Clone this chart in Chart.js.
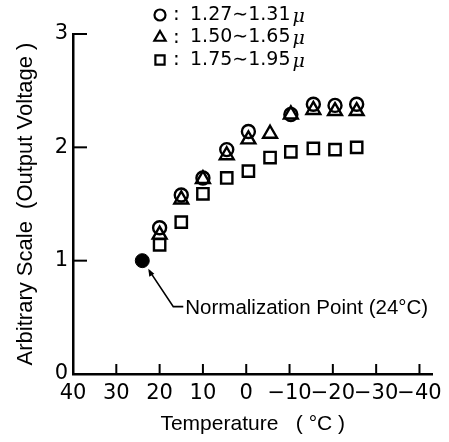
<!DOCTYPE html>
<html>
<head>
<meta charset="utf-8">
<script src="https://cdn.jsdelivr.net/npm/chart.js@4/dist/chart.umd.min.js"></script>
<style>
  html, body { margin: 0; padding: 0; background: #fff; }
  #wrap { width: 449px; height: 442px; }
</style>
</head>
<body>
<div id="wrap"><canvas id="myChart"></canvas></div>
<script>
// temperatures (deg C) of the measured points
var temps = [20, 15, 10, 4.5, -0.5, -5.5, -10.3, -15.5, -20.5, -25.5];

// output voltage, normalised at 24 deg C
var band1 = [1.29, 1.58, 1.73, 1.98, 2.14, null, 2.29, 2.38, 2.37, 2.38];
var band2 = [1.23, 1.54, 1.72, 1.93, 2.07, 2.12, 2.29, 2.33, 2.32, 2.32];
var band3 = [1.14, 1.34, 1.59, 1.73, 1.79, 1.91, 1.96, 1.99, 1.98, 2.00];

var bandLabels = ['1.27\u223C1.31', '1.50\u223C1.65', '1.75\u223C1.95'];

var normTemp = [24];
var normValue = [1];
var normLabel = 'Normalization Point (24\u00B0C)';

var xTicks = [40, 30, 20, 10, 0, -10, -20, -30, -40];
var yTicks = [0, 1, 2, 3];

function toPoints(xs, ys) {
    var pts = [];
    for (var i = 0; i < xs.length; i++) {
        if (ys[i] !== null) pts.push({x: xs[i], y: ys[i]});
    }
    return pts;
}

function series(label, ys, style, radius) {
    return {
        label: label,
        data: toPoints(temps, ys),
        pointStyle: style,
        pointRadius: radius,
        pointBorderColor: '#000',
        pointBackgroundColor: 'rgba(0,0,0,0)',
        pointBorderWidth: 2.4,
        showLine: false
    };
}

// inward tick marks, legend and the normalisation note
var decorations = {
    id: 'decorations',
    afterDatasetsDraw: function(chart) {
        var ctx = chart.ctx;
        var xs = chart.scales.x, ys = chart.scales.y;
        var area = chart.chartArea;
        ctx.save();
        ctx.strokeStyle = '#000';
        ctx.lineWidth = 2;
        xTicks.forEach(function(t) {
            var px = xs.getPixelForValue(t);
            ctx.beginPath();
            ctx.moveTo(px, area.bottom);
            ctx.lineTo(px, area.bottom - 10);
            ctx.stroke();
        });
        yTicks.forEach(function(t) {
            var py = ys.getPixelForValue(t);
            ctx.beginPath();
            ctx.moveTo(area.left, py);
            ctx.lineTo(area.left + 14, py);
            ctx.stroke();
        });

        // legend
        var styles = ['circle', 'triangle', 'rect'];
        var radii = [5.5, 6.5, 6.5];
        ctx.textBaseline = 'middle';
        for (var i = 0; i < 3; i++) {
            var ly = 15 + i * 22.5;
            ctx.lineWidth = 2.2;
            ctx.fillStyle = 'rgba(0,0,0,0)';
            Chart.helpers.drawPoint(ctx, {pointStyle: styles[i], radius: radii[i], borderWidth: 2.2}, 160, ly);
            ctx.fillStyle = '#000';
            ctx.font = '20px "DejaVu Sans"';
            ctx.fillText(':', 173, ly);
            ctx.font = '19px "DejaVu Sans"';
            ctx.fillText(bandLabels[i], 190, ly);
            var w = ctx.measureText(bandLabels[i]).width;
            ctx.font = 'italic 19px "DejaVu Serif"';
            ctx.fillText('\u03BC', 192 + w, ly + 2);
        }

        // normalisation note
        var nx = xs.getPixelForValue(normTemp[0]);
        var ny = ys.getPixelForValue(normValue[0]);
        ctx.fillStyle = '#000';
        ctx.lineWidth = 1.6;
        ctx.beginPath();
        ctx.moveTo(nx + 7, ny + 10);
        ctx.lineTo(nx + 31, ny + 46);
        ctx.lineTo(nx + 41, ny + 46);
        ctx.stroke();
        ctx.beginPath();
        ctx.moveTo(nx + 6, ny + 8);
        ctx.lineTo(nx + 7, ny + 16);
        ctx.lineTo(nx + 12, ny + 13);
        ctx.closePath();
        ctx.fill();
        ctx.font = '20.5px "Liberation Sans"';
        ctx.fillText(normLabel, nx + 43, ny + 48);
        ctx.restore();
    }
};

var ctx = document.getElementById('myChart').getContext('2d');
var myChart = new Chart(ctx, {
    type: 'scatter',
    data: {
        datasets: [
            series(bandLabels[0], band1, 'circle', 6.5),
            series(bandLabels[1], band2, 'triangle', 8),
            series(bandLabels[2], band3, 'rect', 8),
            {
                label: normLabel,
                data: toPoints(normTemp, normValue),
                pointStyle: 'circle',
                pointRadius: 7,
                pointBackgroundColor: '#000',
                pointBorderColor: '#000',
                showLine: false
            }
        ]
    },
    options: {
        responsive: true,
        maintainAspectRatio: false,
        animation: false,
        layout: {padding: {top: 34, right: 7, left: 0, bottom: 0}},
        plugins: {legend: {display: false}, tooltip: {enabled: false}},
        scales: {
            x: {
                type: 'linear',
                reverse: true,
                min: -43,
                max: 40,
                afterFit: function(scale) { scale.height = 68; },
                afterBuildTicks: function(scale) {
                    scale.ticks = xTicks.map(function(v) { return {value: v}; });
                },
                grid: {display: true, drawOnChartArea: false, drawTicks: false},
                border: {display: true, color: '#000', width: 2.5},
                ticks: {
                    padding: 7,
                    color: '#000',
                    font: {family: 'DejaVu Sans', size: 21},
                    maxRotation: 0,
                    autoSkip: false,
                    callback: function(v) { return v < 0 ? '\u2212' + Math.abs(v) : String(v); }
                },
                title: {
                    display: true,
                    text: 'Temperature   ( \u00B0C )',
                    color: '#000',
                    font: {family: 'Liberation Sans', size: 21},
                    padding: 5
                }
            },
            y: {
                min: 0,
                max: 3,
                afterFit: function(scale) { scale.width = 73; },
                afterBuildTicks: function(scale) {
                    scale.ticks = yTicks.map(function(v) { return {value: v}; });
                },
                grid: {display: true, drawOnChartArea: false, drawTicks: false},
                border: {display: true, color: '#000', width: 2.5},
                ticks: {
                    padding: 5,
                    color: '#000',
                    font: {family: 'DejaVu Sans', size: 21}
                },
                title: {
                    display: true,
                    text: 'Arbitrary Scale  (Output Voltage )',
                    color: '#000',
                    font: {family: 'Liberation Sans', size: 22},
                    padding: 13
                }
            }
        }
    },
    plugins: [decorations]
});
</script>
</body>
</html>
